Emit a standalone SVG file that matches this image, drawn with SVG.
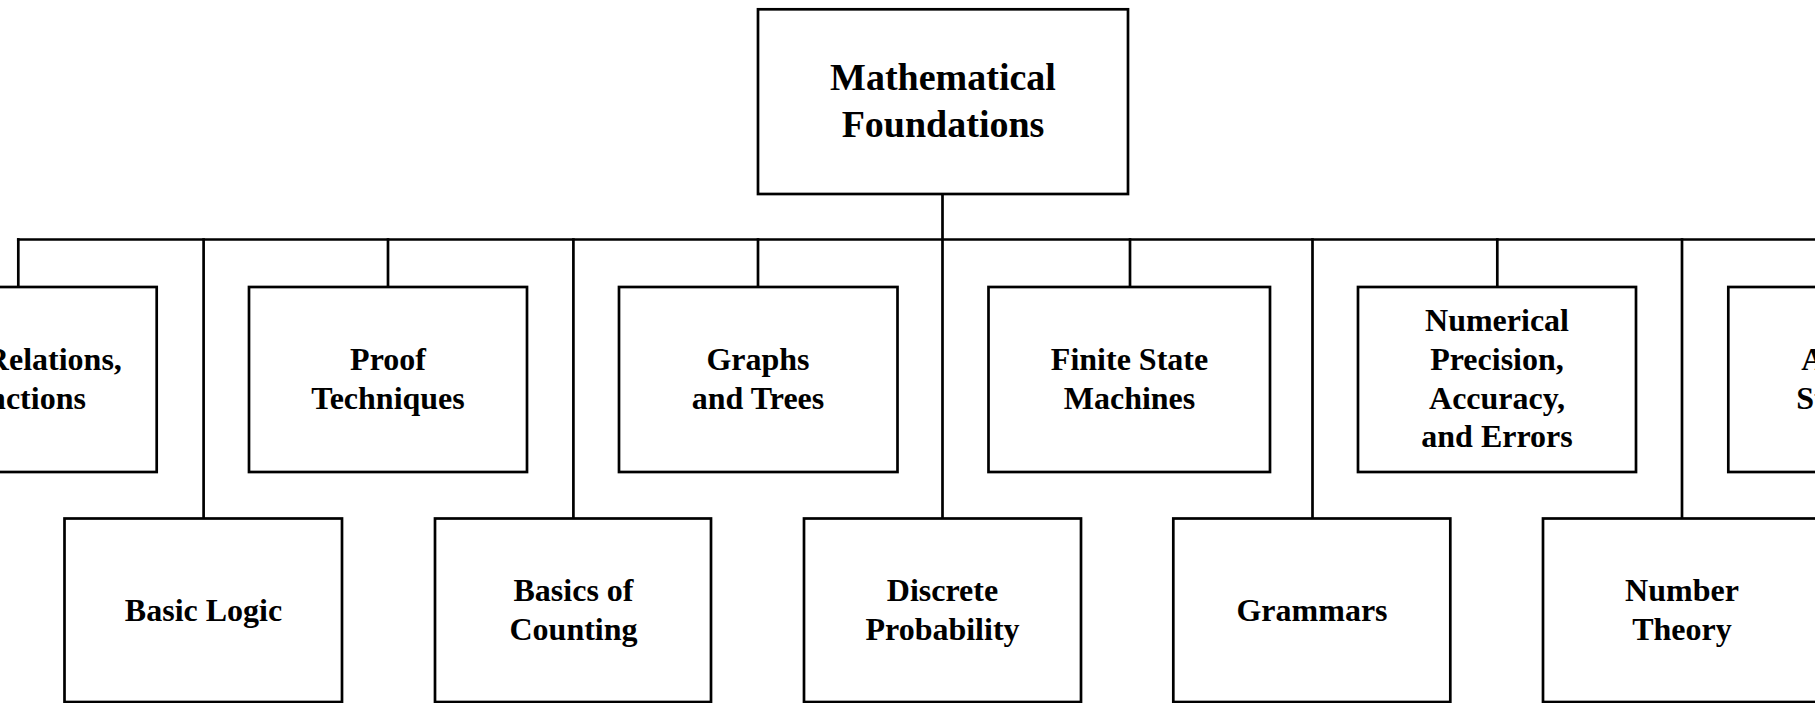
<svg xmlns="http://www.w3.org/2000/svg" width="1815" height="703" viewBox="0 0 1815 703">
<style>
  .box { fill: #ffffff; stroke: #000000; stroke-width: 2.7; }
  .conn { fill: none; stroke: #000000; stroke-width: 2.7; stroke-linecap: square; }
  .lbl { font-family: "Liberation Serif", "Times New Roman", serif; font-weight: bold; font-size: 32px; fill: #000000; text-anchor: middle; }
  .root { font-size: 38px; }
</style>
<rect x="0" y="0" width="1815" height="703" fill="#ffffff"/>
<g id="connectors">
  <line class="conn" x1="942.5" y1="194" x2="942.5" y2="518.5"/>
  <line class="conn" x1="18.3" y1="239.5" x2="1815" y2="239.5"/>
  <line class="conn" x1="18.3" y1="239.5" x2="18.3" y2="287"/>
  <line class="conn" x1="388" y1="239.5" x2="388" y2="287"/>
  <line class="conn" x1="758" y1="239.5" x2="758" y2="287"/>
  <line class="conn" x1="1130" y1="239.5" x2="1130" y2="287"/>
  <line class="conn" x1="1497.3" y1="239.5" x2="1497.3" y2="287"/>
  <line class="conn" x1="203.6" y1="239.5" x2="203.6" y2="518.5"/>
  <line class="conn" x1="573.4" y1="239.5" x2="573.4" y2="518.5"/>
  <line class="conn" x1="1312.5" y1="239.5" x2="1312.5" y2="518.5"/>
  <line class="conn" x1="1682" y1="239.5" x2="1682" y2="518.5"/>
</g>
<g id="node-root">
  <rect class="box" x="758" y="9.3" width="370" height="184.7"/>
  <text class="lbl root" x="943" y="90">Mathematical</text>
  <text class="lbl root" x="943" y="136.5">Foundations</text>
</g>
<g id="node-sets">
  <rect class="box" x="-120" y="287" width="276.7" height="185"/>
  <text class="lbl" x="18.3" y="370">Sets, Relations,</text>
  <text class="lbl" x="18.3" y="408.5">Functions</text>
</g>
<g id="node-proof">
  <rect class="box" x="249" y="287" width="278" height="185"/>
  <text class="lbl" x="388" y="370">Proof</text>
  <text class="lbl" x="388" y="408.5">Techniques</text>
</g>
<g id="node-graphs">
  <rect class="box" x="619" y="287" width="278.5" height="185"/>
  <text class="lbl" x="758" y="370">Graphs</text>
  <text class="lbl" x="758" y="408.5">and Trees</text>
</g>
<g id="node-fsm">
  <rect class="box" x="988.5" y="287" width="281.5" height="185"/>
  <text class="lbl" x="1129.5" y="370">Finite State</text>
  <text class="lbl" x="1129.5" y="408.5">Machines</text>
</g>
<g id="node-numerical">
  <rect class="box" x="1358" y="287" width="278" height="185"/>
  <text class="lbl" x="1497" y="331">Numerical</text>
  <text class="lbl" x="1497" y="370">Precision,</text>
  <text class="lbl" x="1497" y="408.5">Accuracy,</text>
  <text class="lbl" x="1497" y="447">and Errors</text>
</g>
<g id="node-algebraic">
  <rect class="box" x="1728.3" y="287" width="280" height="185"/>
  <text class="lbl" x="1868" y="370">Algebraic</text>
  <text class="lbl" x="1868" y="408.5">Structures</text>
</g>
<g id="node-logic">
  <rect class="box" x="64.5" y="518.5" width="277.5" height="183.5"/>
  <text class="lbl" x="203.5" y="621">Basic Logic</text>
</g>
<g id="node-counting">
  <rect class="box" x="435" y="518.5" width="276" height="183.5"/>
  <text class="lbl" x="573.5" y="601">Basics of</text>
  <text class="lbl" x="573.5" y="640">Counting</text>
</g>
<g id="node-probability">
  <rect class="box" x="804" y="518.5" width="277" height="183.5"/>
  <text class="lbl" x="942.5" y="601">Discrete</text>
  <text class="lbl" x="942.5" y="640">Probability</text>
</g>
<g id="node-grammars">
  <rect class="box" x="1173.3" y="518.5" width="277" height="183.5"/>
  <text class="lbl" x="1312" y="621">Grammars</text>
</g>
<g id="node-number">
  <rect class="box" x="1543" y="518.5" width="280" height="183.5"/>
  <text class="lbl" x="1682" y="601">Number</text>
  <text class="lbl" x="1682" y="640">Theory</text>
</g>
</svg>
